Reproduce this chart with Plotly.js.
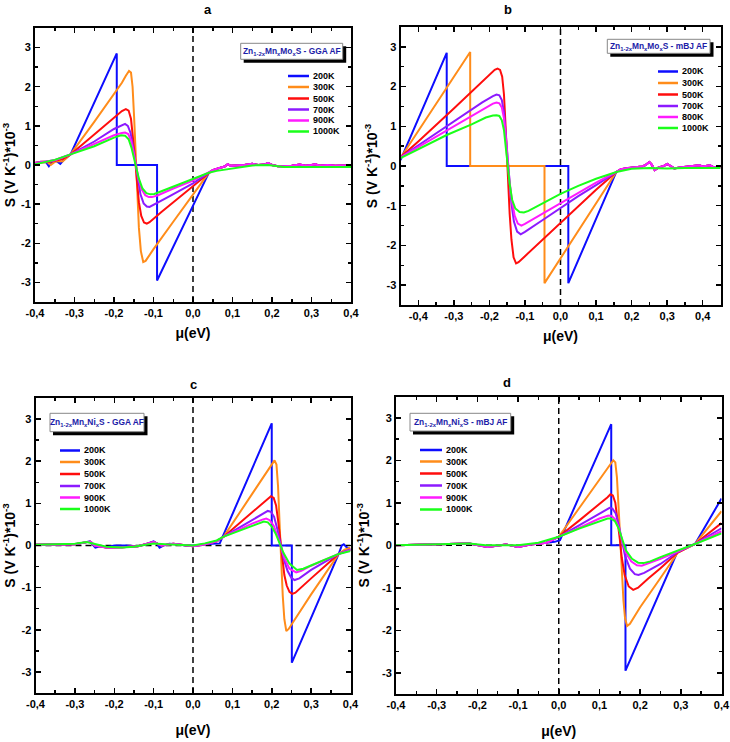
<!DOCTYPE html>
<html><head><meta charset="utf-8">
<script src="https://cdn.plot.ly/plotly-3.0.1.min.js"></script>
<style>body{margin:0;background:#fff}#chart{width:730px;height:742px}</style>
</head><body><div id="chart"></div>
<script>
// ---------- labels ----------
const tempsA = ['200K','300K','500K','700K','900K','1000K'];
const tempsB = ['200K','300K','500K','700K','800K','1000K'];
const tempsC = ['200K','300K','500K','700K','900K','1000K'];
const tempsD = ['200K','300K','500K','700K','900K','1000K'];
const panelLetters = ['a','b','c','d'];
const boxTexts = [
  'Zn<sub>1-2x</sub>Mn<sub>x</sub>Mo<sub>x</sub>S - GGA AF',
  'Zn<sub>1-2x</sub>Mn<sub>x</sub>Mo<sub>x</sub>S - mBJ AF',
  'Zn<sub>1-2x</sub>Mn<sub>x</sub>Ni<sub>x</sub>S - GGA AF',
  'Zn<sub>1-2x</sub>Mn<sub>x</sub>Ni<sub>x</sub>S - mBJ AF'
];
const xTickVals = [-0.4,-0.3,-0.2,-0.1,0,0.1,0.2,0.3,0.4];
const xTickText = ['-0,4','-0,3','-0,2','-0,1','0,0','0,1','0,2','0,3','0,4'];
const yTickVals = [-3,-2,-1,0,1,2,3];
const yTickText = ['-3','-2','-1','0','1','2','3'];

// ---------- panel a : Zn1-2xMnxMoxS GGA ----------
const aTailX = [0.05,0.065,0.08,0.088,0.095,0.11,0.13,0.15,0.165,0.18,0.19,0.2,0.215,0.23,0.25,0.27,0.285,0.3,0.31,0.32,0.34,0.36,0.38,0.4];
const aTailY = [-0.13,-0.08,-0.04,0.02,-0.02,-0.01,0.0,0.03,0.0,0.01,0.05,0.0,-0.03,-0.03,-0.02,0.01,-0.02,0.0,0.02,-0.02,0.0,-0.02,-0.01,-0.02];
const a200x = [-0.4,-0.385,-0.372,-0.365,-0.357,-0.345,-0.336,-0.328,-0.31,-0.193,-0.193,-0.091,-0.091,0.04];
const a200y = [0.05,0.08,0.07,-0.03,0.08,0.1,0.03,0.12,0.27,2.85,0,0,-2.95,-0.2];
const a300x = [-0.4,-0.38,-0.368,-0.36,-0.35,-0.338,-0.33,-0.31,-0.25,-0.2,-0.18,-0.17,-0.162,-0.157,-0.153,-0.149,-0.145,-0.141,-0.137,-0.132,-0.126,-0.12,-0.1,-0.05,0,0.04];
const a300y = [0.06,0.09,0.07,0.0,0.08,0.1,0.09,0.27,1.1,1.82,2.1,2.28,2.4,2.36,2.0,1.2,0.2,-0.8,-1.6,-2.2,-2.48,-2.45,-2.15,-1.45,-0.76,-0.2];
const a500x = [-0.4,-0.36,-0.33,-0.31,-0.25,-0.2,-0.18,-0.17,-0.163,-0.157,-0.152,-0.147,-0.142,-0.137,-0.131,-0.124,-0.117,-0.11,-0.08,-0.04,0,0.04];
const a500y = [0.05,0.08,0.15,0.27,0.78,1.22,1.38,1.43,1.39,1.18,0.75,0.2,-0.4,-0.95,-1.3,-1.47,-1.5,-1.46,-1.2,-0.87,-0.55,-0.2];
const a700x = [-0.4,-0.35,-0.31,-0.25,-0.2,-0.18,-0.172,-0.165,-0.158,-0.152,-0.146,-0.14,-0.133,-0.125,-0.117,-0.11,-0.1,-0.06,0,0.04];
const a700y = [0.05,0.12,0.27,0.6,0.92,1.02,1.05,1.0,0.82,0.48,0.05,-0.38,-0.75,-0.98,-1.06,-1.07,-1.02,-0.8,-0.47,-0.2];
const a900x = [-0.4,-0.35,-0.31,-0.25,-0.2,-0.18,-0.172,-0.164,-0.157,-0.151,-0.145,-0.138,-0.13,-0.121,-0.112,-0.104,-0.09,-0.05,0,0.04];
const a900y = [0.05,0.12,0.27,0.53,0.76,0.82,0.83,0.79,0.63,0.35,0.0,-0.35,-0.62,-0.77,-0.82,-0.82,-0.78,-0.6,-0.4,-0.2];
const a1000x = [-0.4,-0.35,-0.31,-0.25,-0.2,-0.182,-0.172,-0.163,-0.156,-0.15,-0.144,-0.137,-0.128,-0.118,-0.108,-0.098,-0.08,-0.04,0,0.04,0.06,0.1,0.15,0.19,0.23,0.3,0.4];
const a1000y = [0.02,0.13,0.27,0.48,0.7,0.76,0.75,0.66,0.45,0.2,-0.08,-0.35,-0.6,-0.72,-0.75,-0.74,-0.67,-0.52,-0.37,-0.2,-0.15,-0.08,-0.01,0.0,-0.05,-0.05,-0.05];

// ---------- panel b : Zn1-2xMnxMoxS mBJ ----------
const bTailX = [0.17,0.19,0.21,0.23,0.24,0.25,0.256,0.265,0.275,0.29,0.3,0.31,0.32,0.335,0.35,0.37,0.39,0.4,0.41,0.42,0.43,0.45];
const bTailY = [-0.08,-0.05,-0.03,-0.01,0.03,0.1,0.04,-0.1,-0.04,0.0,0.05,0.0,-0.06,-0.04,-0.02,-0.01,0.02,-0.01,0.01,0.02,-0.03,-0.03];
const b200x = [-0.45,-0.32,-0.32,0.022,0.022,0.157];
const b200y = [0.15,2.85,0,0,-2.95,-0.15];
const b300x = [-0.45,-0.254,-0.254,-0.045,-0.045,0.157];
const b300y = [0.2,2.87,0,0,-2.95,-0.15];
const b500x = [-0.45,-0.4,-0.3,-0.25,-0.2,-0.185,-0.177,-0.17,-0.164,-0.159,-0.155,-0.151,-0.147,-0.143,-0.138,-0.132,-0.125,-0.118,-0.1,-0.05,0,0.05,0.1,0.157];
const b500y = [0.22,0.62,1.45,1.87,2.3,2.42,2.45,2.42,2.25,1.8,1.1,0.3,-0.5,-1.2,-1.85,-2.3,-2.45,-2.42,-2.27,-1.85,-1.42,-1.02,-0.6,-0.15];
const b700x = [-0.45,-0.4,-0.3,-0.22,-0.19,-0.18,-0.172,-0.165,-0.159,-0.154,-0.149,-0.144,-0.138,-0.131,-0.122,-0.112,-0.1,-0.05,0,0.05,0.1,0.157];
const b700y = [0.22,0.52,1.13,1.6,1.76,1.8,1.78,1.66,1.35,0.85,0.25,-0.35,-0.95,-1.4,-1.65,-1.72,-1.66,-1.36,-1.05,-0.76,-0.48,-0.15];
const b800x = [-0.45,-0.4,-0.3,-0.22,-0.19,-0.18,-0.172,-0.165,-0.159,-0.154,-0.149,-0.144,-0.137,-0.129,-0.12,-0.11,-0.1,-0.05,0,0.05,0.1,0.157];
const b800y = [0.22,0.48,1.0,1.42,1.57,1.6,1.58,1.47,1.2,0.75,0.2,-0.33,-0.85,-1.25,-1.45,-1.5,-1.46,-1.2,-0.92,-0.66,-0.42,-0.15];
const b1000x = [-0.45,-0.4,-0.32,-0.25,-0.21,-0.19,-0.18,-0.172,-0.165,-0.159,-0.154,-0.149,-0.143,-0.136,-0.127,-0.115,-0.103,-0.09,-0.05,0,0.05,0.1,0.157,0.2,0.25,0.3,0.35,0.45];
const b1000y = [0.2,0.42,0.78,1.05,1.22,1.27,1.28,1.26,1.15,0.9,0.5,0.0,-0.45,-0.85,-1.07,-1.16,-1.17,-1.13,-0.93,-0.7,-0.5,-0.32,-0.15,-0.07,-0.05,-0.06,-0.05,-0.05];

// ---------- panel c : Zn1-2xMnxNixS GGA ----------
const cHeadX = [-0.4,-0.3,-0.27,-0.26,-0.25,-0.22,-0.18,-0.14,-0.1,-0.09,-0.08,-0.05,-0.02,0,0.03,0.06];
const cHeadY = [0.02,0.03,0.08,0.09,0.0,-0.05,-0.04,-0.02,0.08,0.04,0.0,0.04,0.0,-0.02,0.03,0.1];
const c200x = [-0.4,-0.33,-0.3,-0.275,-0.262,-0.255,-0.248,-0.235,-0.22,-0.2,-0.17,-0.14,-0.12,-0.1,-0.092,-0.085,-0.075,-0.06,-0.04,-0.02,0,0.03,0.06,0.068,0.2,0.2,0.251,0.251,0.37,0.378,0.383,0.39,0.4];
const c200y = [0.02,0.02,0.03,0.07,0.1,0.02,-0.05,-0.02,-0.04,0.0,0.0,-0.02,0.03,0.1,0.05,-0.05,0.0,0.04,0.03,0.0,0.0,0.03,0.05,0.05,2.9,0,0,-2.78,-0.2,0.0,0.03,-0.04,-0.1];
const c300x = [0.078,0.15,0.19,0.2,0.207,0.212,0.216,0.22,0.224,0.228,0.232,0.237,0.243,0.27,0.3,0.33,0.37,0.385,0.4];
const c300y = [0.21,1.22,1.78,1.92,2.02,1.92,1.4,0.5,-0.4,-1.2,-1.75,-2.03,-1.98,-1.58,-1.16,-0.75,-0.2,-0.1,-0.05];
const c500x = [0.078,0.15,0.18,0.19,0.198,0.205,0.211,0.216,0.221,0.226,0.232,0.238,0.245,0.252,0.26,0.3,0.37,0.385,0.4];
const c500y = [0.21,0.79,1.03,1.12,1.17,1.13,0.95,0.6,0.15,-0.3,-0.7,-0.95,-1.1,-1.15,-1.12,-0.78,-0.2,-0.15,-0.1];
const c700x = [0.078,0.15,0.18,0.19,0.198,0.206,0.214,0.222,0.23,0.24,0.25,0.258,0.27,0.3,0.37,0.385,0.4];
const c700y = [0.21,0.6,0.78,0.82,0.8,0.68,0.4,0.05,-0.3,-0.6,-0.77,-0.82,-0.78,-0.58,-0.2,-0.14,-0.1];
const c900x = [0.078,0.15,0.178,0.186,0.195,0.205,0.214,0.222,0.232,0.245,0.262,0.275,0.3,0.37,0.385,0.4];
const c900y = [0.21,0.52,0.62,0.64,0.6,0.47,0.25,0.0,-0.3,-0.55,-0.64,-0.6,-0.48,-0.2,-0.15,-0.11];
const c1000x = [-0.4,-0.3,-0.27,-0.25,-0.22,-0.18,-0.15,-0.12,-0.1,-0.07,-0.03,0,0.03,0.06,0.078,0.15,0.172,0.18,0.19,0.2,0.21,0.22,0.23,0.245,0.264,0.28,0.3,0.37,0.4];
const c1000y = [0.02,0.04,0.08,0.03,-0.03,-0.05,-0.03,0.02,0.05,0.03,0.02,0.0,0.05,0.12,0.21,0.47,0.55,0.57,0.55,0.45,0.28,0.05,-0.18,-0.43,-0.58,-0.55,-0.47,-0.2,-0.13];

// ---------- panel d : Zn1-2xMnxNixS mBJ ----------
const dHeadX = [-0.4,-0.3,-0.22,-0.175,-0.15,-0.13,-0.1,-0.07,-0.03];
const dHeadY = [0.0,0.02,0.04,-0.04,0.0,0.02,-0.04,0.02,0.06];
const d200x = [-0.01,0.003,0.129,0.129,0.164,0.164,0.292,0.335,0.4];
const d200y = [0.08,0.12,2.85,0,0,-2.95,-0.15,0.03,1.1];
const d300x = [0,0.05,0.1,0.125,0.134,0.139,0.143,0.147,0.151,0.155,0.159,0.163,0.168,0.175,0.2,0.25,0.292,0.335,0.4];
const d300y = [0.2,0.87,1.54,1.88,2.0,1.95,1.6,0.9,0.1,-0.7,-1.3,-1.72,-1.9,-1.85,-1.46,-0.77,-0.18,0.03,0.8];
const d500x = [0,0.05,0.1,0.12,0.127,0.133,0.139,0.145,0.15,0.155,0.162,0.172,0.183,0.195,0.22,0.25,0.292,0.335,0.4];
const d500y = [0.2,0.58,0.96,1.13,1.2,1.17,1.0,0.6,0.15,-0.3,-0.7,-0.97,-1.05,-1.0,-0.78,-0.54,-0.17,0.03,0.52];
const d700x = [0,0.05,0.1,0.125,0.132,0.14,0.147,0.155,0.163,0.175,0.187,0.196,0.21,0.25,0.292,0.335,0.4];
const d700y = [0.2,0.47,0.75,0.88,0.86,0.75,0.5,0.1,-0.25,-0.55,-0.68,-0.7,-0.65,-0.44,-0.16,0.03,0.4];
const d900x = [0,0.05,0.1,0.122,0.13,0.14,0.148,0.156,0.165,0.178,0.192,0.204,0.22,0.25,0.292,0.335,0.4];
const d900y = [0.2,0.41,0.63,0.7,0.69,0.6,0.4,0.1,-0.18,-0.38,-0.47,-0.48,-0.43,-0.32,-0.15,0.03,0.33];
const d1000x = [-0.4,-0.3,-0.22,-0.18,-0.15,-0.1,-0.05,0,0.05,0.1,0.12,0.128,0.138,0.147,0.156,0.165,0.18,0.195,0.208,0.225,0.25,0.292,0.335,0.4];
const d1000y = [0.0,0.02,0.04,0.0,0.0,0.0,0.06,0.2,0.39,0.57,0.63,0.63,0.57,0.4,0.12,-0.12,-0.32,-0.41,-0.42,-0.38,-0.28,-0.13,0.03,0.28];

const seriesColors = ['#0d0dff','#ff8c1a','#ff0d0d','#8c1aff','#ff1aff','#1aff1a'];

// ---------- assemble series (built from the arrays above) ----------
const cat = (a,b)=>a.concat(b);
const panelData = [
  [[cat(a200x,aTailX),cat(a200y,aTailY)],[cat(a300x,aTailX),cat(a300y,aTailY)],[cat(a500x,aTailX),cat(a500y,aTailY)],
   [cat(a700x,aTailX),cat(a700y,aTailY)],[cat(a900x,aTailX),cat(a900y,aTailY)],[a1000x,a1000y]],
  [[cat(b200x,bTailX),cat(b200y,bTailY)],[cat(b300x,bTailX),cat(b300y,bTailY)],[cat(b500x,bTailX),cat(b500y,bTailY)],
   [cat(b700x,bTailX),cat(b700y,bTailY)],[cat(b800x,bTailX),cat(b800y,bTailY)],[b1000x,b1000y]],
  [[c200x,c200y],[cat(cHeadX,c300x),cat(cHeadY,c300y)],[cat(cHeadX,c500x),cat(cHeadY,c500y)],
   [cat(cHeadX,c700x),cat(cHeadY,c700y)],[cat(cHeadX,c900x),cat(cHeadY,c900y)],[c1000x,c1000y]],
  [[cat(dHeadX,d200x),cat(dHeadY,d200y)],[cat(dHeadX,d300x),cat(dHeadY,d300y)],[cat(dHeadX,d500x),cat(dHeadY,d500y)],
   [cat(dHeadX,d700x),cat(dHeadY,d700y)],[cat(dHeadX,d900x),cat(dHeadY,d900y)],[d1000x,d1000y]]
];
const panelTemps = [tempsA,tempsB,tempsC,tempsD];

// ---------- geometry (pixels) ----------
const W=730,H=742;
const PX=v=>v/W, PY=v=>1-v/H;
const frames = [[35,351,28,302],[400.5,720.5,27,305],[35.5,350.5,398,693],[396,721.5,396.5,694]];
const xRanges = [[-0.4,0.4],[-0.45,0.45],[-0.4,0.4],[-0.4,0.4]];
const letterPos = [[208,9],[508,9],[193,384],[507,382]];
const boxes = [[240.7,342.7,43.3,59.3],[607.3,710,39.3,53.3],[50,144,413.3,431.7],[410,510.7,413.3,431]];
const legLine = [[288,309,311],[658,678,680],[60,80,82],[420,442,444]];
const legRows = [[76,87,98.5,109.5,120.5,131.5],[71.5,83,94.5,106,117,128],[450.5,462,474,486,497.5,509],[450,461.5,473.5,485.5,497.5,509.5]];
const hZero = [false,false,true,true];
const xStandoff = [10,10,16,16];
const yStandoff = [6,6,6,9];

const FONT = 'Liberation Sans, Arial, sans-serif';
const traces = [];
const layout = {
  width:W, height:H, margin:{l:0,r:0,t:0,b:0}, paper_bgcolor:'#fff', plot_bgcolor:'#fff',
  showlegend:false, font:{family:FONT, color:'#000', size:12}, shapes:[], annotations:[]
};
for (let p=0;p<4;p++){
  const suf = p===0?'':String(p+1);
  const [l,r,t,b] = frames[p];
  panelData[p].forEach((s,i)=>{
    traces.push({x:s[0], y:s[1], xaxis:'x'+suf, yaxis:'y'+suf, mode:'lines', name:panelTemps[p][i],
      line:{color:seriesColors[i], width:2}, hoverinfo:'skip'});
  });
  const common = {showline:true, linewidth:2, linecolor:'#000', mirror:'ticks', ticks:'inside', ticklen:5,
    tickwidth:1.5, tickcolor:'#000', showgrid:false, zeroline:false, automargin:false, fixedrange:true,
    ticklabeloverflow:'allow', tickfont:{size:11, weight:'bold', family:FONT}};
  layout['xaxis'+suf] = Object.assign({}, common, {
    domain:[PX(l),PX(r)], range:xRanges[p], anchor:'y'+suf, tickmode:'array', tickvals:xTickVals, ticktext:xTickText,
    minor:{ticks:'inside', ticklen:3, tickwidth:1.5, tickcolor:'#000', tickmode:'linear', tick0:0, dtick:0.05, showgrid:false},
    title:{text:'\u03bc(eV)', font:{size:14, weight:'bold', family:FONT}, standoff:xStandoff[p]}
  });
  layout['yaxis'+suf] = Object.assign({}, common, {
    domain:[PY(b),PY(t)], range:[-3.5,3.5], anchor:'x'+suf, tickmode:'array', tickvals:yTickVals, ticktext:yTickText,
    minor:{ticks:'inside', ticklen:3, tickwidth:1.5, tickcolor:'#000', tickmode:'linear', tick0:0, dtick:0.5, showgrid:false},
    title:{text:'S (V K<sup>-1</sup>)*10<sup>-3</sup>', font:{size:14, weight:'bold', family:FONT}, standoff:yStandoff[p]}
  });
  // dashed zero lines
  layout.shapes.push({type:'line', xref:'x'+suf, yref:'y'+suf+' domain', x0:0, x1:0, y0:0, y1:1,
    line:{color:'#000', width:1.5, dash:'6px,4px'}, layer:'below'});
  if (hZero[p]) layout.shapes.push({type:'line', xref:'x'+suf+' domain', yref:'y'+suf, x0:0, x1:1, y0:0, y1:0,
    line:{color:'#000', width:1.5, dash:'6px,4px'}, layer:'below'});
  // panel letter
  layout.annotations.push({text:panelLetters[p], xref:'paper', yref:'paper', x:PX(letterPos[p][0]), y:PY(letterPos[p][1]),
    showarrow:false, font:{size:13, weight:'bold', family:FONT}, xanchor:'center', yanchor:'middle'});
  // title box with shadow
  const [bl,br,bt,bb] = boxes[p];
  layout.shapes.push({type:'rect', xref:'paper', yref:'paper', x0:PX(bl+3), x1:PX(br+3.5), y0:PY(bb+3.5), y1:PY(bt+3),
    fillcolor:'#000', line:{width:0}});
  layout.shapes.push({type:'rect', xref:'paper', yref:'paper', x0:PX(bl), x1:PX(br), y0:PY(bb), y1:PY(bt),
    fillcolor:'#fff', line:{color:'#888', width:1}});
  layout.annotations.push({text:boxTexts[p], xref:'paper', yref:'paper', x:PX((bl+br)/2), y:PY((bt+bb)/2),
    showarrow:false, font:{size:8.4, weight:'bold', color:'#1c1ca8', family:FONT}, xanchor:'center', yanchor:'middle'});
  // manual legend
  const [lx0,lx1,tx] = legLine[p];
  panelTemps[p].forEach((name,i)=>{
    const yy = legRows[p][i];
    layout.shapes.push({type:'line', xref:'paper', yref:'paper', x0:PX(lx0), x1:PX(lx1), y0:PY(yy), y1:PY(yy),
      line:{color:seriesColors[i], width:2.5}});
    layout.annotations.push({text:name, xref:'paper', yref:'paper', x:PX(tx), y:PY(yy), showarrow:false,
      font:{size:9, weight:'bold', family:FONT}, xanchor:'left', yanchor:'middle'});
  });
}
Plotly.newPlot('chart', traces, layout, {displayModeBar:false, staticPlot:true});
</script></body></html>
